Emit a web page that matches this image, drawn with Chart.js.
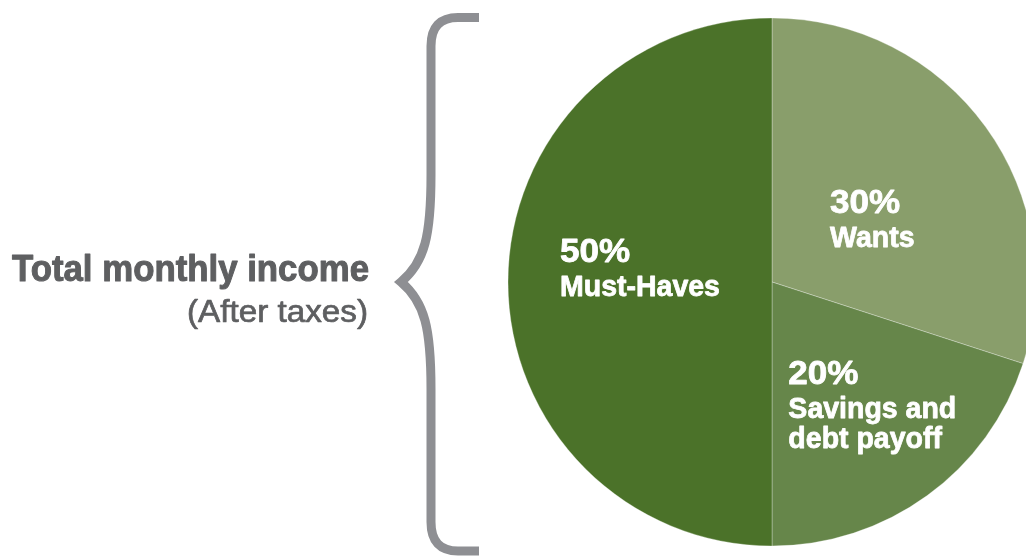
<!DOCTYPE html>
<html>
<head>
<meta charset="utf-8">
<script src="https://cdn.jsdelivr.net/npm/chart.js@4"></script>
<style>
  html, body { margin: 0; padding: 0; background: #ffffff; }
  #wrap { position: relative; width: 1026px; height: 557px; }
</style>
</head>
<body>
<div id="wrap"><canvas id="c" width="1026" height="557"></canvas></div>
<script>
// ---- data ----
const categories = ['Wants', 'Savings and debt payoff', 'Must-Haves'];
const shares = [30, 20, 50];
const labelLines = [['Wants'], ['Savings and', 'debt payoff'], ['Must-Haves']];
const sliceColors = ['#899e6b', '#66864a', '#4b7229'];
const titleText = 'Total monthly income';
const subtitleText = '(After taxes)';

const FONT = "'Liberation Sans', Arial, sans-serif";

// draw text with a horizontal scale and optional outline thickening
function drawText(ctx, text, x, y, s, align, thicken) {
  ctx.save();
  ctx.translate(x, y);
  ctx.scale(s, 1);
  ctx.textAlign = align;
  ctx.fillText(text, 0, 0);
  if (thicken) {
    ctx.lineWidth = thicken;
    ctx.lineJoin = 'round';
    ctx.strokeStyle = ctx.fillStyle;
    ctx.strokeText(text, 0, 0);
  }
  ctx.restore();
}

const decorPlugin = {
  id: 'decor',
  afterDraw(chart) {
    const ctx = chart.ctx;
    const arc = chart.getDatasetMeta(0).data[0];
    const cx = arc.x, cy = arc.y, r = arc.outerRadius;

    // left heading
    ctx.save();
    ctx.fillStyle = '#5e5f61';
    ctx.textBaseline = 'alphabetic';
    ctx.font = 'bold 36px ' + FONT;
    drawText(ctx, titleText, 369, 281, 357 / ctx.measureText(titleText).width, 'right', 1);
    ctx.font = '31px ' + FONT;
    drawText(ctx, subtitleText, 368, 322, 181 / ctx.measureText(subtitleText).width, 'right', 0.7);
    ctx.restore();

    // brace
    ctx.save();
    ctx.strokeStyle = '#8e8f93';
    ctx.lineWidth = 9;
    ctx.lineJoin = 'miter';
    ctx.lineCap = 'butt';
    ctx.beginPath();
    ctx.moveTo(479, 17.5);
    ctx.lineTo(458, 17.5);
    ctx.quadraticCurveTo(431, 17.5, 431, 46);
    ctx.lineTo(431, 175);
    ctx.bezierCurveTo(431, 235, 425, 262, 401, 282);
    ctx.bezierCurveTo(425, 302, 431, 329, 431, 389);
    ctx.lineTo(431, 522);
    ctx.quadraticCurveTo(431, 551, 458, 551);
    ctx.lineTo(479, 551);
    ctx.stroke();
    ctx.restore();

    // slice labels (anchor = left edge / cap-top, relative to pie centre in radius units)
    const anchors = [[0.22, -0.352], [0.062, 0.295], [-0.803, -0.167]];
    ctx.save();
    ctx.fillStyle = '#ffffff';
    ctx.textBaseline = 'alphabetic';
    shares.forEach((v, i) => {
      const x = cx + anchors[i][0] * r;
      const top = cy + anchors[i][1] * r;
      ctx.font = 'bold 34px ' + FONT;
      drawText(ctx, v + '%', x, top + 24, 1.03, 'left', 0.8);
      ctx.font = 'bold 30px ' + FONT;
      labelLines[i].forEach((line, j) => {
        drawText(ctx, line, x, top + 58 + j * 30, 0.95, 'left', 0.8);
      });
    });
    ctx.restore();
  }
};

new Chart(document.getElementById('c'), {
  type: 'pie',
  data: {
    labels: categories,
    datasets: [{
      data: shares,
      backgroundColor: sliceColors,
      borderColor: 'rgba(255,255,255,0.3)',
      borderWidth: 1,
      clip: false
    }]
  },
  options: {
    responsive: false,
    animation: false,
    radius: 264,
    rotation: 0,
    layout: { padding: { left: 518, right: 0, top: 18, bottom: 11 } },
    plugins: {
      legend: { display: false },
      tooltip: { enabled: false },
      title: { display: false }
    }
  },
  plugins: [decorPlugin]
});
</script>
</body>
</html>
